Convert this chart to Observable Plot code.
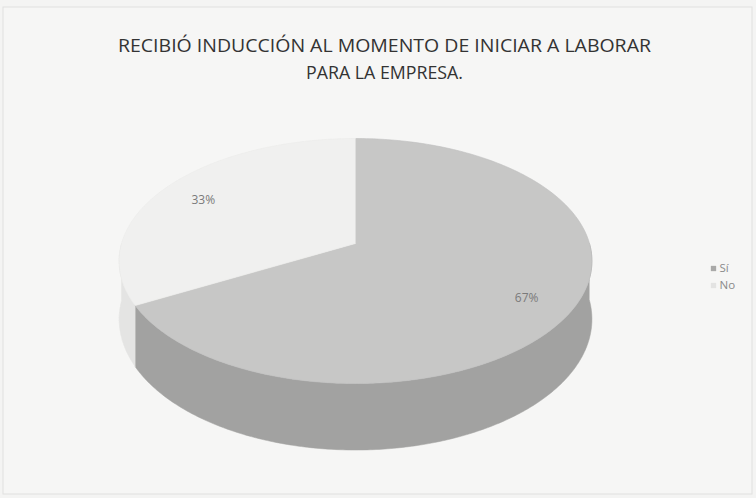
<!DOCTYPE html>
<html>
<head>
<meta charset="utf-8">
<script src="https://cdn.jsdelivr.net/npm/d3@7"></script>
<script src="https://cdn.jsdelivr.net/npm/@observablehq/plot@0.6"></script>
<style>
  html, body { margin: 0; padding: 0; background: #f4f4f3; }
  #chart { width: 756px; height: 498px; }
</style>
</head>
<body>
<div id="chart"></div>
<script>
// ---- data ----
const categories = ["Sí", "No"];
const values = [67, 33];
const pctLabels = ["67%", "33%"];
const titleLines = ["RECIBIÓ INDUCCIÓN AL MOMENTO DE INICIAR A LABORAR", "PARA LA EMPRESA."];

// ---- style ----
const topColors = ["#c7c7c6", "#f0f0ef"];
const sideColors = ["#a2a2a1", "#e4e4e3"];
const legendColors = ["#a9a9a8", "#e3e3e2"];

// ---- 3D pie projection (perspective tilted disk) ----
const cx = 355, cy = 243, R = 234, Ry = 120, k = 0.143, D = 57;
function proj(phi, f = 1) {           // phi clockwise from 12 o'clock
  const u = Math.sin(phi) * f, v = Math.cos(phi) * f;
  const s = 1 + k * v;
  return [cx + R * u / s, cy - Ry * v / s];
}
const total = d3.sum(values);
let acc = 0;
const slices = values.map((v, i) => {
  const a0 = acc / total * 2 * Math.PI;
  acc += v;
  const a1 = acc / total * 2 * Math.PI;
  return {cat: categories[i], i, a0, a1};
});

const N = 240;
function topPoly(s) {
  const pts = [{x: cx, y: cy}];
  for (let j = 0; j <= N; j++) {
    const p = proj(s.a0 + (s.a1 - s.a0) * j / N);
    pts.push({x: p[0], y: p[1]});
  }
  return pts;
}
function sidePoly(s) {
  const lo = Math.max(s.a0, Math.PI / 2), hi = Math.min(s.a1, 3 * Math.PI / 2);
  if (hi <= lo) return [];
  const top = [], bot = [];
  for (let j = 0; j <= N; j++) {
    const a = lo + (hi - lo) * j / N;
    const p = proj(a);
    const v = Math.cos(a);
    top.push({x: p[0], y: p[1]});
    bot.push({x: p[0], y: p[1] + D / (1 + k * v)});
  }
  return top.concat(bot.reverse());
}

const labelData = slices.map(s => {
  const m = (s.a0 + s.a1) / 2;
  const p = proj(m, 0.8);
  return {x: p[0], y: p[1], text: pctLabels[s.i]};
});

const marks = [];
// outer chart frame
marks.push(Plot.rect([{x1: 3, x2: 752, y1: 7, y2: 494}], {x1: "x1", x2: "x2", y1: "y1", y2: "y2", fill: "#f6f6f5", stroke: "#e0e0df", strokeWidth: 1}));
// sides
slices.forEach(s => {
  const poly = sidePoly(s);
  if (poly.length) marks.push(Plot.line(poly, {x: "x", y: "y", fill: sideColors[s.i], stroke: sideColors[s.i], strokeWidth: 0.5, curve: "linear"}));
});
// tops
slices.forEach(s => {
  marks.push(Plot.line(topPoly(s), {x: "x", y: "y", fill: topColors[s.i], stroke: s.i === 0 ? "#c0c0bf" : "#ebebea", strokeWidth: 0.6, curve: "linear"}));
});
// percentage labels
marks.push(Plot.text(labelData, {x: "x", y: "y", dy: 3, text: "text", fill: "#7a7a7a", fontSize: 12, fontFamily: "Open Sans"}));
// title
marks.push(Plot.text(titleLines, {x: () => 384, y: (d, i) => [45, 72][i], text: d => d, fill: "#333333", fontSize: 19, fontFamily: "Open Sans", className: "ttl"}));
// legend
const legend = categories.map((c, i) => ({c, i, y: 268 + i * 17}));
marks.push(Plot.dot(legend, {x: () => 713, y: "y", symbol: "square", r: 3, fill: (d) => legendColors[d.i], stroke: null}));
marks.push(Plot.text(legend, {x: () => 719, y: "y", text: "c", textAnchor: "start", fill: "#8a8a8a", fontSize: 11.5, fontFamily: "Open Sans"}));

const chart = Plot.plot({
  width: 756, height: 498, margin: 0,
  x: {domain: [0, 756], range: [0, 756], axis: null},
  y: {domain: [0, 498], range: [0, 498], axis: null},
  style: {background: "transparent"},
  marks
});
// fit title lines to the reference widths
const widths = [533, 157];
chart.querySelectorAll("g.ttl text").forEach((t, i) => {
  t.setAttribute("textLength", widths[i]);
  t.setAttribute("lengthAdjust", "spacingAndGlyphs");
});
document.getElementById("chart").appendChild(chart);
</script>
</body>
</html>
